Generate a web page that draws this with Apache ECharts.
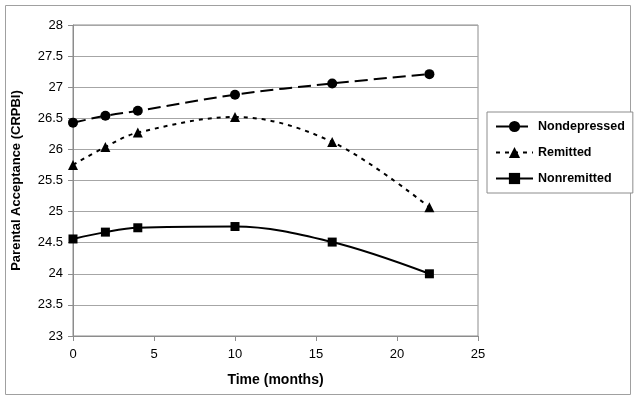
<!DOCTYPE html>
<html>
<head>
<meta charset="utf-8">
<script src="https://cdn.jsdelivr.net/npm/echarts@6/dist/echarts.min.js"></script>
<style>html,body{margin:0;padding:0;background:#fff;}#c{width:637px;height:401px;}</style>
</head>
<body>
<div id="c"></div>
<script>
const months = [0, 2, 4, 10, 16, 22];
const nondepressed = [26.43, 26.54, 26.62, 26.88, 27.06, 27.21];
const remitted = [25.75, 26.04, 26.27, 26.52, 26.12, 25.07];
const nonremitted = [24.56, 24.67, 24.74, 24.76, 24.51, 24.00];
const seriesNames = ['Nondepressed', 'Remitted', 'Nonremitted'];

const font = 'Liberation Sans, Arial, sans-serif';
const chart = echarts.init(document.getElementById('c'), null, {renderer: 'canvas'});
function pts(arr){ return months.map((m,i)=>[m, arr[i]]); }
function mk(name, arr, symbol, lineType, size){
  return {
    name, type: 'line', data: pts(arr), smooth: 0.35,
    symbol, symbolSize: size,
    lineStyle: {color: '#000', width: 2, type: lineType},
    itemStyle: {color: '#000'},
    animation: false
  };
}
chart.setOption({
  animation: false,
  textStyle: {fontFamily: font},
  graphic: [{type: 'rect', shape: {x: 5.5, y: 5.5, width: 625, height: 389}, style: {fill: 'none', stroke: '#a0a0a0', lineWidth: 1}, z: -1}],
  grid: {left: 73, right: 159, top: 25, bottom: 65, show: true, borderColor: '#8c8c8c', borderWidth: 1},
  legend: {
    data: seriesNames, orient: 'vertical', left: 487, top: 112,
    padding: [8, 8, 8, 8], itemWidth: 37, itemHeight: 14, itemGap: 13,
    borderColor: '#8c8c8c', borderWidth: 1, backgroundColor: '#fff',
    textStyle: {fontFamily: font, fontSize: 12.5, fontWeight: 'bold', color: '#000'}
  },
  xAxis: {
    type: 'value', min: 0, max: 25, interval: 5,
    name: 'Time (months)', nameLocation: 'middle', nameGap: 37,
    nameTextStyle: {fontFamily: font, fontSize: 14, fontWeight: 'bold', color: '#000'},
    axisLine: {lineStyle: {color: '#8c8c8c'}},
    axisTick: {show: true, length: 5, lineStyle: {color: '#8c8c8c'}},
    axisLabel: {fontFamily: font, fontSize: 13, color: '#000', margin: 12},
    splitLine: {show: false}
  },
  yAxis: {
    type: 'value', min: 23, max: 28, interval: 0.5,
    name: 'Parental Acceptance (CRPBI)', nameLocation: 'middle', nameGap: 50,
    nameTextStyle: {fontFamily: font, fontSize: 13, fontWeight: 'bold', color: '#000'},
    axisLine: {show: true, lineStyle: {color: '#8c8c8c'}},
    axisTick: {show: true, length: 5, lineStyle: {color: '#8c8c8c'}},
    axisLabel: {fontFamily: font, fontSize: 13, color: '#000', margin: 10},
    splitLine: {show: true, lineStyle: {color: '#a6a6a6', width: 1}}
  },
  series: [
    mk(seriesNames[0], nondepressed, 'circle', [13, 6], 10),
    mk(seriesNames[1], remitted, 'triangle', [4, 5], 10),
    mk(seriesNames[2], nonremitted, 'rect', 'solid', 9)
  ]
});
</script>
</body>
</html>
